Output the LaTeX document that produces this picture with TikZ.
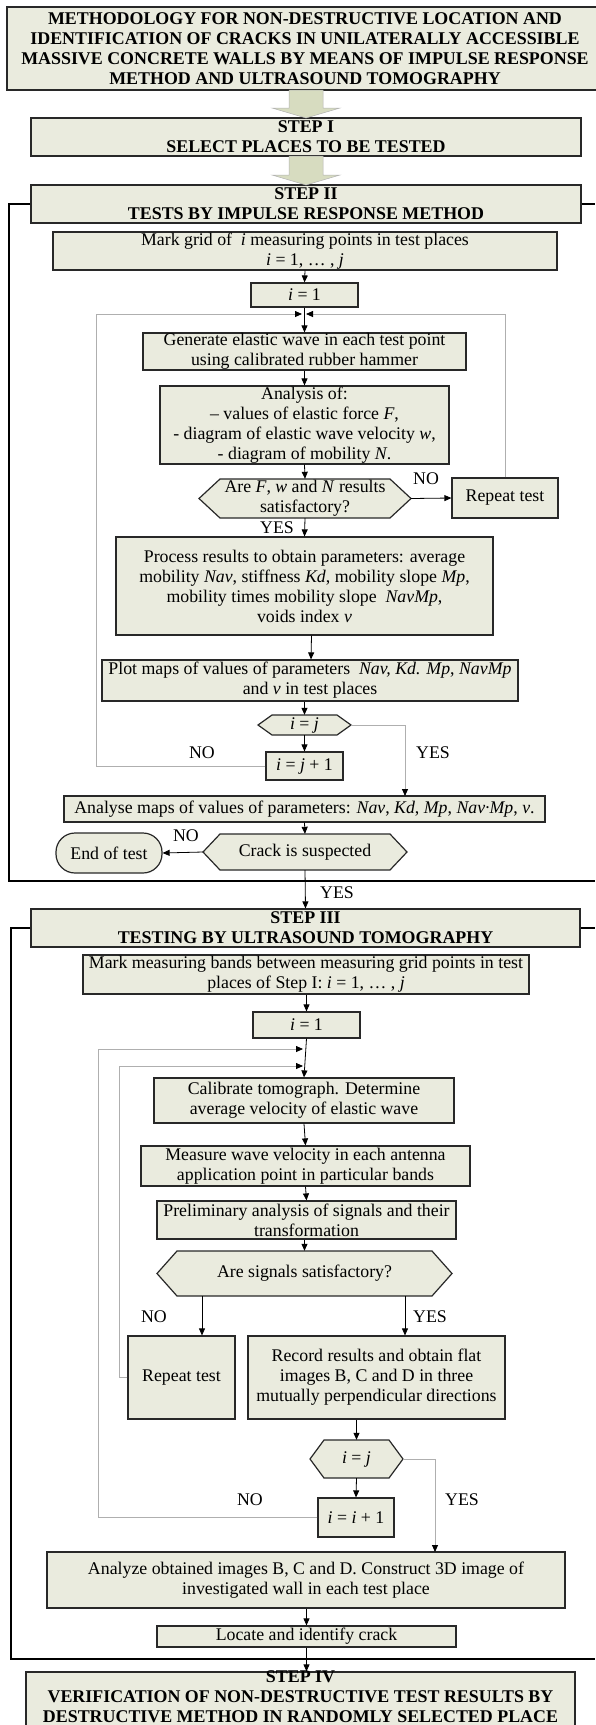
\documentclass[tikz,border=0pt]{standalone}
\usepackage{fontspec}
\setmainfont{Liberation Serif}
\usetikzlibrary{arrows.meta,calc}
\definecolor{boxfill}{RGB}{234,235,222}
\definecolor{arrfill}{RGB}{215,220,192}
\definecolor{loopgray}{RGB}{175,175,175}
\definecolor{edgec}{RGB}{40,40,40}
\newcommand\txtfont{\fontsize{17.8}{20}\selectfont}
\newcommand\hexshape[5]{%
  \path[hexline] ({#1-#3/2+#5},{#2-#4/2}) -- ({#1+#3/2-#5},{#2-#4/2}) -- ({#1+#3/2},{#2})
   -- ({#1+#3/2-#5},{#2+#4/2}) -- ({#1-#3/2+#5},{#2+#4/2}) -- ({#1-#3/2},{#2}) -- cycle;}
\tikzset{
  box/.style={draw=edgec, line width=1.2pt, fill=boxfill, inner sep=0pt, align=center, font=\txtfont},
  stepbox/.style={box, font=\bfseries\fontsize{17.9}{20}\selectfont},
  titlebox/.style={box, font=\bfseries\fontsize{17.9}{20}\selectfont},
  hexnode/.style={inner sep=0pt, align=center, font=\txtfont, draw=none},
  hexline/.style={draw=edgec, line width=1.2pt, fill=boxfill},
  arr/.style={draw=black, line width=0.8pt, -{Triangle[length=7pt,width=6pt]}},
  grayarr/.style={draw=loopgray, line width=0.8pt, -{Triangle[length=7pt,width=6pt,color=black]}},
  framel/.style={draw=black, line width=1.4pt},
  lbl/.style={font=\txtfont, inner sep=0pt},
  blockarr/.style={fill=arrfill, draw=gray!60, line width=0.5pt},
}
\begin{document}
\begin{tikzpicture}[x=1pt,y=-1pt]
\useasboundingbox (0,0) rectangle (595,1725);

% ---------- header ----------
\node[titlebox, minimum width=596, minimum height=83] (title) at (305,48.5)
 {METHODOLOGY FOR NON-DESTRUCTIVE LOCATION AND\\IDENTIFICATION OF CRACKS IN UNILATERALLY ACCESSIBLE\\MASSIVE CONCRETE WALLS BY MEANS OF IMPULSE RESPONSE\\METHOD AND ULTRASOUND TOMOGRAPHY};
\node[stepbox, minimum width=550, minimum height=38] (step1) at (306,137)
 {STEP I\\SELECT PLACES TO BE TESTED};
\node[stepbox, minimum width=550, minimum height=38] (step2) at (306,204)
 {STEP II\\TESTS BY IMPULSE RESPONSE METHOD};
\path[blockarr] (289,90) -- (323,90) -- (323,108) -- (340,108) -- (306,118) -- (272,108) -- (289,108) -- cycle;
\path[blockarr] (289,156) -- (323,156) -- (323,175) -- (340,175) -- (306,185) -- (272,175) -- (289,175) -- cycle;

% frame step II
\coordinate (f2a) at (9,204);
\coordinate (f2b) at (595,881);
\coordinate (f2c) at (595,204);
\draw[framel] (step2.west) -- (f2a) |- (f2b);
\draw[framel] (step2.east) -- (f2c);

% ---------- step II ----------
\node[box, minimum width=504, minimum height=38] (mark1) at (305,251)
 {Mark grid of \ \textit{i} measuring points in test places\\\textit{i} = 1, \dots\ , \textit{j}};
\node[box, minimum width=107, minimum height=24] (i1a) at (304.5,295) {\textit{i} = 1};
\node[box, minimum width=323, minimum height=37] (gen) at (304.5,351.5)
 {Generate elastic wave in each test point\\using calibrated rubber hammer};
\node[box, minimum width=289, minimum height=78] (ana) at (304.5,425)
 {Analysis of:\\– values of elastic force \textit{F},\\- diagram of elastic wave velocity \textit{w},\\- diagram of mobility \textit{N}.};
\hexshape{305}{498.5}{212}{39}{21}
\node[hexnode, minimum width=212, minimum height=39] (hex1) at (305,498.5)
 {Are \textit{F}, \textit{w} and \textit{N} results\\satisfactory?};
\node[box, minimum width=106, minimum height=40] (rep1) at (505,498) {Repeat test};
\node[box, minimum width=377, minimum height=98] (proc) at (304.5,586)
 {Process results to obtain parameters: average\\mobility \textit{Nav}, stiffness \textit{Kd}, mobility slope \textit{Mp},\\mobility times mobility slope \ \textit{NavMp},\\voids index \textit{v}};
\node[box, minimum width=416, minimum height=41] (plot) at (310,680.5)
 {Plot maps of values of parameters \ \textit{Nav, Kd. Mp}, \textit{NavMp}\\and \textit{v} in test places};
\hexshape{304.5}{725}{93}{20}{14}
\node[hexnode, minimum width=93, minimum height=20] (hexij) at (304.5,725) {\textit{i} = \textit{j}};
\node[box, minimum width=77, minimum height=28] (ij1) at (304.5,766) {\textit{i} = \textit{j} + 1};
\node[box, minimum width=481, minimum height=26] (anal2) at (304.5,809)
 {Analyse maps of values of parameters: \textit{Nav}, \textit{Kd}, \textit{Mp}, \textit{Nav·Mp}, \textit{v}.};
\hexshape{305}{852}{204}{36}{17}
\node[hexnode, minimum width=204, minimum height=36] (crack) at (305,852) {Crack is suspected};
\node[box, rounded corners=19pt, minimum width=106, minimum height=40] (endt) at (109,853) {End of test};

\draw[arr] (mark1.south) -- (i1a.north);
\draw[arr] (i1a.south) -- (gen.north);
\draw[arr] (gen.south) -- (ana.north);
\draw[arr] (ana.south) -- (hex1.north);
\draw[arr] (hex1.east) -- (rep1.west);
\draw[arr] (hex1.south) -- (proc.north);
\draw[arr] ([xshift=7pt]proc.south) -- ([xshift=1pt]plot.north);
\draw[arr] (plot.south -| hexij.north) -- (hexij.north);
\draw[arr] (hexij.south) -- (ij1.north);
\draw[arr] (anal2.south) -- (crack.north);
\draw[arr] (crack.west) -- (endt.east);

\coordinate (j1) at (304,314);
\coordinate (c1) at (96,314);
\coordinate (y1) at (405,796);
\draw[grayarr] (ij1.west) -| (c1) -- ([xshift=-2pt]j1);
\draw[grayarr] (rep1.north) |- ([xshift=2pt]j1);
\draw[grayarr] (hexij.east) -| (y1);

\node[lbl] (no1) at (426,479) {NO};
\node[lbl] (yes1) at (277,528) {YES};
\node[lbl] (no2) at (202,753) {NO};
\node[lbl] (yes2) at (433,753) {YES};
\node[lbl] (no3) at (186,836) {NO};
\node[lbl] (yes3) at (337,893) {YES};

% ---------- step III ----------
\node[stepbox, minimum width=549, minimum height=38] (step3) at (305.5,928)
 {STEP III\\TESTING BY ULTRASOUND TOMOGRAPHY};
\draw[arr] (crack.south) -- (step3.north);
\coordinate (f3a) at (11,928);
\coordinate (f3b) at (595,1659);
\coordinate (f3c) at (595,928);
\draw[framel] (step3.west) -- (f3a) |- (f3b);
\draw[framel] (step3.east) -- (f3c);

\node[box, minimum width=446, minimum height=39] (mark2) at (306,974.5)
 {Mark measuring bands between measuring grid points in test\\places of Step I: \textit{i} = 1, \dots\ , \textit{j}};
\node[box, minimum width=107, minimum height=26] (i1b) at (306.5,1025) {\textit{i} = 1};
\node[box, minimum width=300, minimum height=45] (cal) at (304,1100.5)
 {Calibrate tomograph. Determine\\average velocity of elastic wave};
\node[box, minimum width=329, minimum height=40] (meas) at (305.5,1166)
 {Measure wave velocity in each antenna\\application point in particular bands};
\node[box, minimum width=299, minimum height=38] (prel) at (306.5,1220)
 {Preliminary analysis of signals and their\\transformation};
\hexshape{304.5}{1273.5}{295}{45}{20}
\node[hexnode, minimum width=295, minimum height=45] (hexsig) at (304.5,1273.5) {Are signals satisfactory?};
\node[box, minimum width=107, minimum height=83] (rep2) at (181.5,1377.5) {Repeat test};
\node[box, minimum width=257, minimum height=83] (rec) at (376.5,1377.5)
 {Record results and obtain flat\\images B, C and D in three\\mutually perpendicular directions};
\hexshape{356.5}{1459}{93}{38}{14}
\node[hexnode, minimum width=93, minimum height=38] (hex2) at (356.5,1459) {\textit{i} = \textit{j}};
\node[box, minimum width=76, minimum height=39] (ii1) at (356,1517.5) {\textit{i} = \textit{i} + 1};
\node[box, minimum width=518, minimum height=56] (anz) at (306,1580)
 {Analyze obtained images B, C and D. Construct 3D image of\\investigated wall in each test place};
\node[box, minimum width=299, minimum height=21] (loc) at (306.5,1636.5) {Locate and identify crack};
\node[stepbox, minimum width=549, minimum height=55] (step4) at (300.5,1699.5)
 {};
\node[font=\bfseries\fontsize{17.9}{20}\selectfont, align=center, inner sep=0pt] (step4t) at (300.5,1697)
 {STEP IV\\VERIFICATION OF NON-DESTRUCTIVE TEST RESULTS BY\\DESTRUCTIVE METHOD IN RANDOMLY SELECTED PLACE};

\draw[arr] (mark2.south -| i1b.north) -- (i1b.north);
\draw[arr] (i1b.south) -- (cal.north);
\draw[arr] (cal.south) -- (meas.north);
\draw[arr] (meas.south) -- (prel.north);
\draw[arr] (prel.south -| hexsig.north) -- (hexsig.north);
\draw[arr] ([xshift=-102.5pt]hexsig.south) -- ([xshift=-102.5pt]hexsig.south |- rep2.north);
\draw[arr] ([xshift=100.5pt]hexsig.south) -- ([xshift=100.5pt]hexsig.south |- rec.north);
\draw[arr] (rec.south -| hex2.north) -- (hex2.north);
\draw[arr] (hex2.south) -- (ii1.north);
\draw[arr] (anz.south -| loc.north) -- (loc.north);
\draw[arr] (loc.south) -- (loc.south |- step4.north);

\coordinate (j2a) at (304,1049);
\coordinate (j2b) at (304,1066);
\coordinate (c2a) at (98,1049);
\coordinate (c2b) at (119,1066);
\coordinate (y2) at (435,1552);
\draw[grayarr] (ii1.west) -| (c2a) -- ([xshift=-1pt]j2a);
\draw[grayarr] (rep2.west) -| (c2b) -- ([xshift=-1pt]j2b);
\draw[grayarr] (hex2.east) -| (y2);

\node[lbl] (no4) at (154,1317) {NO};
\node[lbl] (yes4) at (430,1317) {YES};
\node[lbl] (no5) at (250,1500) {NO};
\node[lbl] (yes5) at (462,1500) {YES};
\end{tikzpicture}
\end{document}
